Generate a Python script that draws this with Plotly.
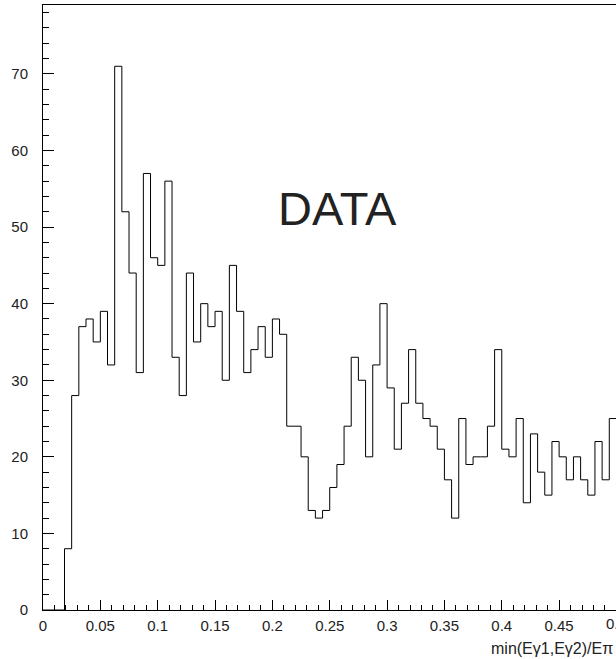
import plotly.graph_objects as go

# Histogram: 80 bins from 0 to 0.5
bin_low = 0.0
bin_width = 0.00625
counts = [0, 0, 0, 8, 28, 37, 38, 35, 39, 32,
          71, 52, 44, 31, 57, 46, 45, 56, 33, 28,
          44, 35, 40, 37, 39, 30, 45, 39, 31, 34,
          37, 33, 38, 36, 24, 24, 20, 13, 12, 13,
          16, 19, 24, 33, 30, 20, 32, 40, 29, 21,
          27, 34, 27, 25, 24, 21, 17, 12, 25, 19,
          20, 20, 24, 34, 21, 20, 25, 14, 23, 18,
          15, 22, 20, 17, 20, 17, 15, 22, 17, 25]
x_title = "min(Eγ1,Eγ2)/Eπ"
label_text = "DATA"
x_tick_vals = [0, 0.05, 0.1, 0.15, 0.2, 0.25, 0.3, 0.35, 0.4, 0.45]
x_tick_text = ["0", "0.05", "0.1", "0.15", "0.2", "0.25", "0.3", "0.35", "0.4", "0.45"]
y_tick_vals = [0, 10, 20, 30, 40, 50, 60, 70]

edges = [bin_low + i * bin_width for i in range(len(counts) + 1)]
step_x = edges
step_y = counts + [counts[-1]]

X_MAX = 0.4996
FONT = "Liberation Sans, Arial, sans-serif"
TXT = "#222222"

fig = go.Figure()
fig.add_trace(go.Scatter(
    x=step_x, y=step_y, mode="lines", line=dict(shape="hv", color="black", width=1),
    hoverinfo="skip", showlegend=False,
))

fig.update_layout(
    width=616, height=659,
    margin=dict(l=43, r=0, t=5, b=49, autoexpand=False),
    paper_bgcolor="white", plot_bgcolor="white",
    showlegend=False,
    xaxis=dict(
        range=[0, X_MAX], showgrid=False, zeroline=False, automargin=False,
        showline=True, linecolor="black", linewidth=1, mirror=True,
        ticks="inside", ticklen=10, tickwidth=1, tickcolor="black",
        tickvals=x_tick_vals, ticktext=x_tick_text,
        tickfont=dict(family=FONT, size=15, color=TXT),
        ticklabelstandoff=2,
        minor=dict(dtick=0.01, tick0=0, ticks="inside", ticklen=5, tickwidth=1, tickcolor="black", showgrid=False),
    ),
    yaxis=dict(
        range=[0, 79], showgrid=False, zeroline=False, automargin=False,
        showline=True, linecolor="black", linewidth=1, mirror=False,
        ticks="inside", ticklen=11, tickwidth=1, tickcolor="black",
        tickvals=y_tick_vals,
        tickfont=dict(family=FONT, size=15, color=TXT),
        ticklabelstandoff=11,
        minor=dict(dtick=2, tick0=0, ticks="inside", ticklen=6, tickwidth=1, tickcolor="black", showgrid=False),
    ),
)

fig.add_annotation(x=0.5 / X_MAX, y=0, xref="paper", yref="paper", text="0.5", showarrow=False,
                   xanchor="center", yanchor="top", yshift=-3,
                   font=dict(family=FONT, size=15, color=TXT))
fig.add_annotation(x=0.999, y=0, xref="paper", yref="paper", text=x_title, showarrow=False,
                   xanchor="right", yanchor="middle", yshift=-38,
                   font=dict(family=FONT, size=16, color=TXT))
fig.add_annotation(x=0.2568, y=52.4, xref="x", yref="y", text=label_text, showarrow=False,
                   xanchor="center", yanchor="middle",
                   font=dict(family=FONT, size=47, color=TXT))

fig.write_html(
    "out.html",
    config={"displayModeBar": False},
    post_script="document.body.style.margin='0';document.body.style.overflow='hidden';",
)
